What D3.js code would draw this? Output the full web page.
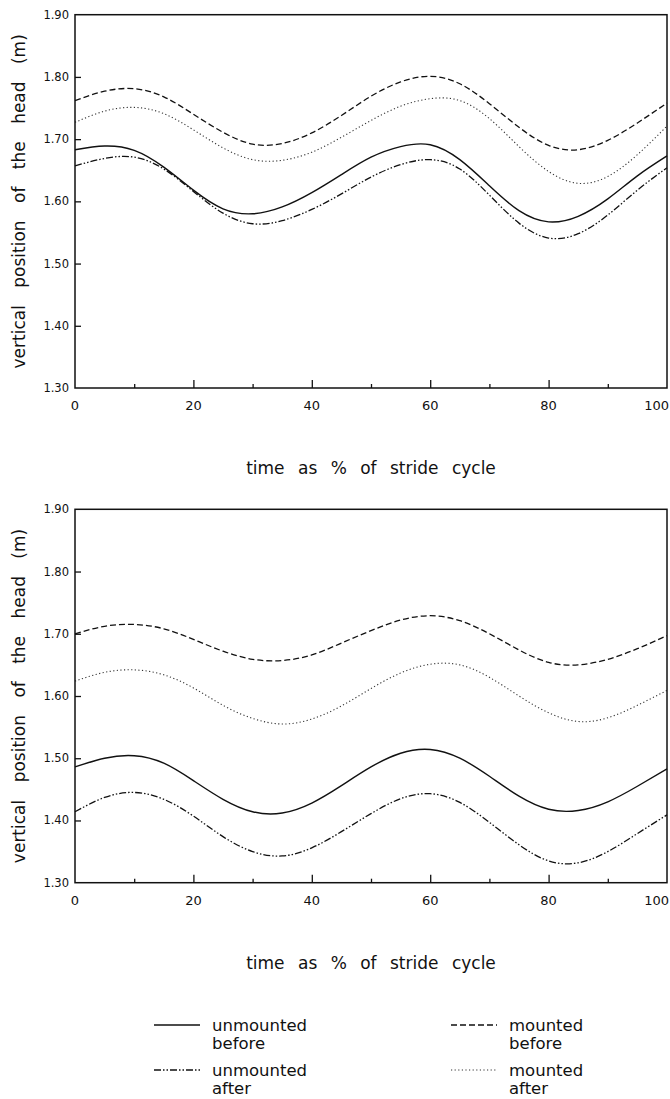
<!DOCTYPE html>
<html>
<head>
<meta charset="utf-8">
<script src="https://cdnjs.cloudflare.com/ajax/libs/d3/7.8.5/d3.min.js"></script>
<style>
body { margin: 0; background: #fff; }
svg text { font-family: "DejaVu Sans", sans-serif; fill: #111; }
</style>
</head>
<body>
<div id="chart"></div>
<script>
// stride cycle positions (%)
var pct = [0, 5, 10, 15, 20, 25, 30, 35, 40, 45, 50, 55, 60, 65, 70, 75, 80, 85, 90, 95, 100];

// top panel
var topUnmountedBefore = [1.683, 1.689, 1.682, 1.655, 1.618, 1.588, 1.580, 1.591, 1.614, 1.643, 1.671,
    1.688, 1.691, 1.667, 1.625, 1.585, 1.567, 1.576, 1.604, 1.641, 1.673];
var topUnmountedAfter = [1.657, 1.669, 1.671, 1.652, 1.616, 1.581, 1.564, 1.569, 1.587, 1.612, 1.639,
    1.659, 1.667, 1.652, 1.610, 1.565, 1.541, 1.548, 1.578, 1.618, 1.654];
var topMountedBefore = [1.762, 1.777, 1.781, 1.768, 1.740, 1.711, 1.692, 1.693, 1.710, 1.738, 1.769,
    1.792, 1.801, 1.789, 1.757, 1.719, 1.690, 1.683, 1.698, 1.726, 1.758];
var topMountedAfter = [1.727, 1.745, 1.751, 1.741, 1.715, 1.686, 1.667, 1.666, 1.679, 1.703, 1.730,
    1.753, 1.765, 1.762, 1.733, 1.688, 1.648, 1.629, 1.640, 1.675, 1.721];

// bottom panel
var botUnmountedBefore = [1.486, 1.500, 1.504, 1.492, 1.464, 1.434, 1.414, 1.412, 1.428, 1.456, 1.486,
    1.508, 1.514, 1.500, 1.471, 1.439, 1.418, 1.416, 1.430, 1.455, 1.483];
var botUnmountedAfter = [1.414, 1.437, 1.445, 1.434, 1.407, 1.374, 1.350, 1.343, 1.356, 1.382, 1.411,
    1.435, 1.443, 1.429, 1.397, 1.361, 1.335, 1.332, 1.350, 1.379, 1.409];
var botMountedBefore = [1.700, 1.712, 1.715, 1.708, 1.691, 1.672, 1.659, 1.657, 1.666, 1.685, 1.705,
    1.722, 1.729, 1.721, 1.700, 1.674, 1.654, 1.650, 1.659, 1.676, 1.697];
var botMountedAfter = [1.624, 1.638, 1.642, 1.634, 1.613, 1.585, 1.564, 1.555, 1.563, 1.584, 1.612,
    1.637, 1.651, 1.650, 1.630, 1.600, 1.573, 1.559, 1.565, 1.585, 1.609];

var xTicks = [0, 20, 40, 60, 80, 100];
var xMinor = [10, 30, 50, 70, 90];
var yTicks = [1.30, 1.40, 1.50, 1.60, 1.70, 1.80, 1.90];

var seriesNames = ["unmounted before", "unmounted after", "mounted before", "mounted after"];
var seriesDash = ["none", "7,2,1.5,2,1.5,2", "6,3", "1.2,2.4"];
var seriesWidth = [1.4, 1.3, 1.3, 1.1];
var seriesColor = ["#111", "#111", "#111", "#333"];

var W = 670, H = 1099;
var svg = d3.select("#chart").append("svg")
    .attr("width", W)
    .attr("height", H);

var x0 = 75, x1 = 667; // plot left/right

function drawPanel(top, bottom, lines) {
    var x = d3.scaleLinear().domain([0, 100]).range([x0, x1]);
    var y = d3.scaleLinear().domain([1.30, 1.90]).range([bottom, top]);
    var g = svg.append("g");

    var line = d3.line()
        .x(function(d) { return x(d[0]); })
        .y(function(d) { return y(d[1]); })
        .curve(d3.curveNatural);

    lines.forEach(function(vals, i) {
        g.append("path")
            .datum(pct.map(function(p, j) { return [p, vals[j]]; }))
            .attr("d", line)
            .attr("fill", "none")
            .attr("stroke", seriesColor[i])
            .attr("stroke-width", seriesWidth[i])
            .attr("stroke-dasharray", seriesDash[i]);
    });

    // frame
    g.append("rect")
        .attr("x", x0).attr("y", top)
        .attr("width", x1 - x0).attr("height", bottom - top)
        .attr("fill", "none")
        .attr("stroke", "#111")
        .attr("stroke-width", 1.5);

    // x ticks (inward)
    var xa = g.append("g").attr("transform", "translate(0," + bottom + ")")
        .call(d3.axisBottom(x).tickValues(xTicks.slice(1, 5)).tickSize(-8).tickFormat(""));
    xa.select(".domain").remove();
    var xm = g.append("g").attr("transform", "translate(0," + bottom + ")")
        .call(d3.axisBottom(x).tickValues(xMinor).tickSize(-4).tickFormat(""));
    xm.select(".domain").remove();
    g.selectAll(".tick line").attr("stroke", "#111").attr("stroke-width", 1.3);

    g.selectAll(".xlab").data(xTicks).enter().append("text")
        .attr("x", function(d, i) { return i == xTicks.length - 1 ? W - 1 : x(d); })
        .attr("y", bottom + 22)
        .attr("text-anchor", function(d, i) { return i == xTicks.length - 1 ? "end" : "middle"; })
        .attr("font-size", 13)
        .text(function(d) { return d; });

    // y ticks (inward)
    var ya = g.append("g").attr("transform", "translate(" + x0 + ",0)")
        .call(d3.axisLeft(y).tickValues(yTicks.slice(1, 6)).tickSize(-6).tickFormat(""));
    ya.select(".domain").remove();
    ya.selectAll(".tick line").attr("stroke", "#111").attr("stroke-width", 1.3);

    g.selectAll(".ylab").data(yTicks).enter().append("text")
        .attr("x", 69)
        .attr("y", function(d) { return y(d) + 4; })
        .attr("text-anchor", "end")
        .attr("font-size", 11.5)
        .text(function(d) { return d.toFixed(2); });

    g.append("text")
        .attr("x", (x0 + x1) / 2)
        .attr("y", bottom + 86)
        .attr("text-anchor", "middle")
        .attr("font-size", 17)
        .attr("word-spacing", 8)
        .text("time as % of stride cycle");

    g.append("text")
        .attr("transform", "translate(25," + (top + bottom) / 2 + ") rotate(-90)")
        .attr("text-anchor", "middle")
        .attr("font-size", 17)
        .attr("word-spacing", 12)
        .text("vertical position of the head (m)");
}

drawPanel(14.7, 388, [topUnmountedBefore, topUnmountedAfter, topMountedBefore, topMountedAfter]);
drawPanel(509.3, 882.7, [botUnmountedBefore, botUnmountedAfter, botMountedBefore, botMountedAfter]);

// legend: two columns, two rows
var legX = [154, 451];
var legY = [1025, 1070];
var legend = svg.append("g");
seriesNames.forEach(function(name, i) {
    var col = i < 2 ? 0 : 1;
    var row = i % 2;
    var lx = legX[col], ly = legY[row];
    legend.append("line")
        .attr("x1", lx).attr("x2", lx + 46)
        .attr("y1", ly).attr("y2", ly)
        .attr("stroke", seriesColor[i])
        .attr("stroke-width", seriesWidth[i])
        .attr("stroke-dasharray", seriesDash[i]);
    var words = name.split(" ");
    legend.append("text")
        .attr("x", lx + 58).attr("y", ly + 6)
        .attr("font-size", 16.5)
        .text(words[0]);
    legend.append("text")
        .attr("x", lx + 58).attr("y", ly + 24)
        .attr("font-size", 16.5)
        .text(words[1]);
});
</script>
</body>
</html>
